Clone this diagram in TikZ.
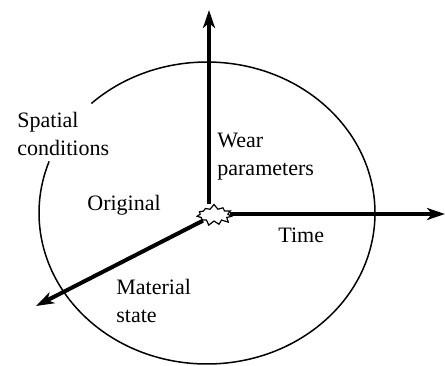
\documentclass[tikz,border=0pt]{standalone}
\usepackage{fontspec}
\setmainfont{Liberation Serif}
\usetikzlibrary{arrows.meta,shapes.symbols}

\begin{document}
\begin{tikzpicture}[x=0.5pt, y=-0.5pt, >={Stealth[length=9pt,width=6pt,inset=2.5pt]},
  every node/.style={font=\rmfamily\fontsize{11}{14}\selectfont},
  axis/.style={->, line width=2pt},
  lbl/.style={align=left, anchor=north west, inner sep=0pt}]
  \useasboundingbox (0,0) rectangle (445,365);
  % ellipse with a gap for the label
  \draw[line width=0.75pt] (207,213) ++(226.5:168 and 151)
    arc[start angle=226.5, end angle=560, x radius=168, y radius=151];
  \node[starburst, draw, fill=white, line width=0.6pt, minimum width=19pt, minimum height=11pt,
    starburst points=11, starburst point height=2.5pt, random starburst=7, inner sep=0pt] (orig) at (214,215) {};
  \coordinate (wear) at (209,10);
  \coordinate (time) at (445,214);
  \coordinate (mat) at (36,306);
  \draw[axis] (orig.north -| wear) -- (wear);
  \draw[axis] (orig.east |- time) -- (time);
  \draw[axis] (orig) -- (mat);
  \node[lbl] (spatial) at (17,112) {Spatial\\conditions};
  \node[lbl] (wearlbl) at (217,133) {Wear\\parameters};
  \node[lbl] (original) at (87,195) {Original};
  \node[lbl] (timelbl) at (278,228) {Time};
  \node[lbl] (material) at (116,279) {Material\\state};
\end{tikzpicture}
\end{document}
